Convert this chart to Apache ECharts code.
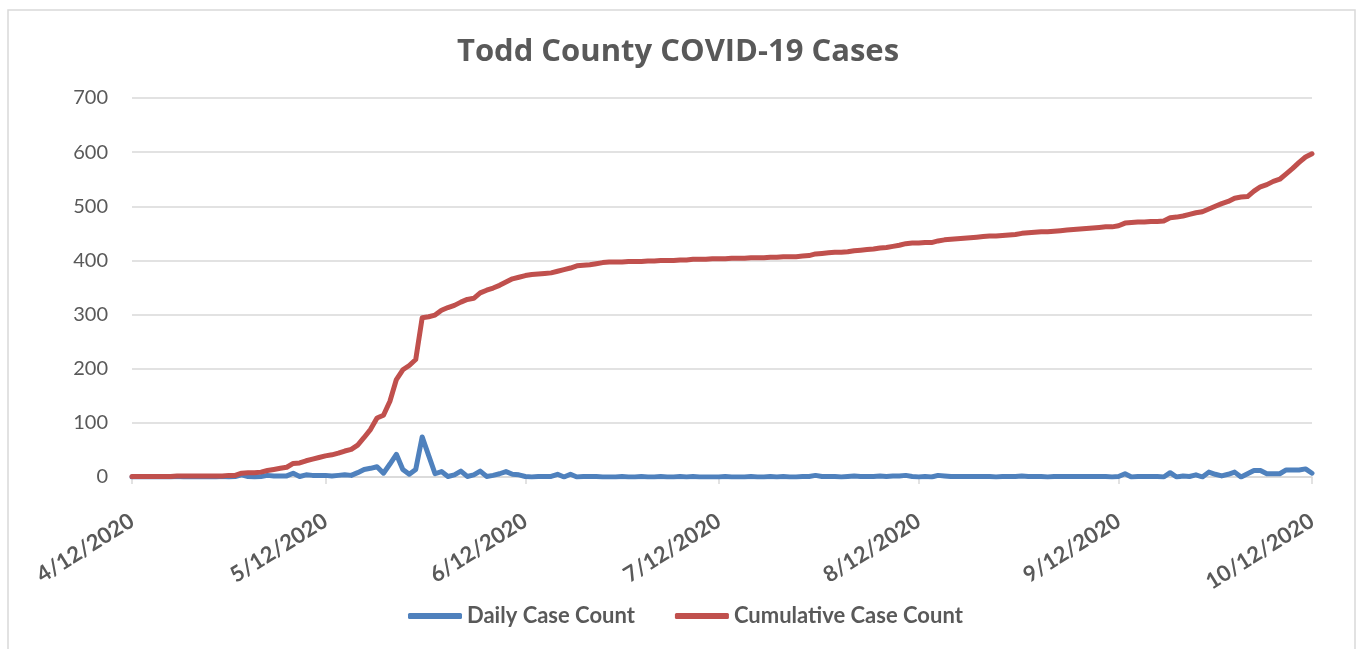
<!DOCTYPE html>
<html>
<head>
<meta charset="utf-8">
<title>Todd County COVID-19 Cases</title>
<script src="https://cdn.jsdelivr.net/npm/echarts@6/dist/echarts.min.js"></script>
<style>
  html, body { margin: 0; padding: 0; background: #fff; }
  #chart { width: 1356px; height: 649px; }
</style>
</head>
<body>
<div id="chart"></div>
<script>
// daily and cumulative counts, one value per day from 4/12/2020 to 10/12/2020
var dailyCases = [
  0,0,0,0,0,0,0,1,0,0,
  0,0,0,0,1,0,1,4,1,0,
  1,3,2,2,2,7,1,4,3,3,
  3,2,3,4,3,8,14,16,19,7,
  24,42,14,5,14,74,40,6,10,1,
  4,11,1,4,11,1,3,6,10,5,
  4,1,0,1,1,1,5,0,5,0,
  1,1,1,0,0,0,1,0,0,1,
  0,0,1,0,0,1,0,1,0,0,
  0,0,1,0,0,0,1,0,0,1,
  0,1,0,0,1,1,3,1,1,1,
  0,1,2,1,1,1,2,1,2,2,
  3,1,0,1,0,3,2,1,1,1,
  1,1,1,1,0,1,1,1,2,1,
  1,1,0,1,1,1,1,1,1,1,
  1,1,0,1,6,0,1,1,1,1,
  0,8,0,2,1,4,0,9,5,2,
  5,9,0,6,12,12,6,6,6,13,
  13,13,15,7
];
var cumulativeCases = [
  1,1,1,1,1,1,1,2,2,2,
  2,2,2,2,2,3,3,7,8,8,
  9,12,14,16,18,25,26,30,33,36,
  39,41,44,48,51,59,73,88,109,114,
  140,180,198,206,217,294,296,299,308,313,
  317,323,328,330,340,345,349,354,360,366,
  369,372,374,375,376,377,380,383,386,390,
  391,392,394,396,397,397,397,398,398,398,
  399,399,400,400,400,401,401,402,402,402,
  403,403,403,404,404,404,405,405,405,406,
  406,407,407,407,408,409,412,413,414,415,
  415,416,418,419,420,421,423,424,426,428,
  431,432,432,433,433,436,438,439,440,441,
  442,443,444,445,445,446,447,448,450,451,
  452,453,453,454,455,456,457,458,459,460,
  461,462,462,464,469,470,471,471,472,472,
  473,479,480,482,485,488,490,495,500,505,
  509,515,517,518,528,536,540,546,550,560,
  570,581,591,597
];
// days (index from 4/12) that carry a date label
var labelDays = [0, 30, 61, 91, 122, 153, 183];

var dates = [];
for (var i = 0; i < dailyCases.length; i++) {
  var d = new Date(Date.UTC(2020, 3, 12 + i));
  dates.push((d.getUTCMonth() + 1) + '/' + d.getUTCDate() + '/' + d.getUTCFullYear());
}

function showDay(index) {
  return labelDays.indexOf(index) !== -1;
}

var gray = '#595959';
var font = 'Lato, "Open Sans", sans-serif';

var chart = echarts.init(document.getElementById('chart'));
var option = {
  animation: false,
  title: {
    text: 'Todd County COVID-19 Cases',
    left: 'center',
    top: 32,
    textStyle: { fontFamily: '"Open Sans", Lato, sans-serif', fontSize: 31, fontWeight: 'bold', color: gray }
  },
  graphic: [{
    type: 'rect',
    silent: true,
    shape: { x: 8, y: 10, width: 1347, height: 700 },
    style: { fill: 'transparent', stroke: '#d9d9d9', lineWidth: 1.5 }
  }],
  legend: {
    data: ['Daily Case Count', 'Cumulative Case Count'],
    left: 403,
    top: 600,
    icon: 'roundRect',
    itemWidth: 54,
    itemHeight: 6,
    itemGap: 40,
    textStyle: { fontFamily: font, fontSize: 22, fontWeight: 'bold', color: gray }
  },
  grid: { left: 132, right: 44, top: 98, bottom: 172 },
  xAxis: {
    type: 'category',
    boundaryGap: false,
    data: dates,
    axisLine: { lineStyle: { color: '#d9d9d9', width: 1.5 } },
    axisTick: { show: true, interval: showDay, length: 7, lineStyle: { color: '#d9d9d9', width: 1.5 } },
    axisLabel: {
      interval: showDay,
      rotate: 32,
      margin: 42,
      fontFamily: font,
      fontSize: 22,
      fontWeight: 'bold',
      color: gray
    },
    splitLine: { show: false }
  },
  yAxis: {
    type: 'value',
    min: 0,
    max: 700,
    interval: 100,
    axisLine: { show: false },
    axisTick: { show: false },
    axisLabel: { margin: 24, fontFamily: font, fontSize: 20, color: gray },
    splitLine: { lineStyle: { color: '#d9d9d9', width: 1.5 } }
  },
  series: [
    {
      name: 'Daily Case Count',
      type: 'line',
      data: dailyCases,
      symbol: 'none',
      color: '#4f81bd',
      lineStyle: { width: 5, color: '#4f81bd', join: 'round', cap: 'round' }
    },
    {
      name: 'Cumulative Case Count',
      type: 'line',
      data: cumulativeCases,
      symbol: 'none',
      color: '#c0504d',
      lineStyle: { width: 5, color: '#c0504d', join: 'round', cap: 'round' }
    }
  ]
};
chart.setOption(option);
</script>
</body>
</html>
